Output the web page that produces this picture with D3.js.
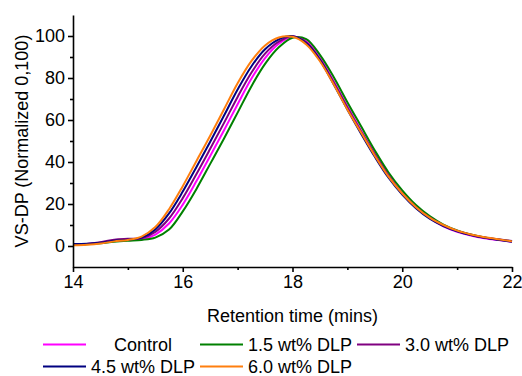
<!DOCTYPE html>
<html>
<head>
<meta charset="utf-8">
<script src="https://cdn.jsdelivr.net/npm/d3@7"></script>
<style>
  html, body { margin: 0; padding: 0; background: #fff; }
  svg { display: block; font-family: Arial, "Liberation Sans", sans-serif; }
</style>
</head>
<body>
<svg id="chart" width="522" height="376"></svg>
<script>
// ---- Data ----
const times = [14, 14.25, 14.5, 14.75, 15, 15.25, 15.5, 15.75, 16, 16.25, 16.5, 16.75, 17, 17.25, 17.5, 17.75,
               18, 18.25, 18.5, 18.75, 19, 19.25, 19.5, 19.75, 20, 20.25, 20.5, 20.75, 21, 21.25, 21.5, 21.75, 22];

const seriesNames = ["Control", "1.5 wt% DLP", "3.0 wt% DLP", "4.5 wt% DLP", "6.0 wt% DLP"];
const seriesColors = ["#ff00ff", "#008000", "#800080", "#000080", "#ff7f0e"];

const control = [0.6, 0.9, 1.5, 2.4, 2.8, 3.1, 5.4, 10.7, 19.7, 30.9, 42.9, 55, 67.5, 79.6, 89.5, 96.3,
                 99.6, 97.5, 89.5, 78.5, 66.5, 55, 44, 33.5, 25, 18.3, 13.2, 9.4, 6.8, 5.0, 3.7, 2.8, 2.0];
const dlp15 = [0.5, 0.8, 1.3, 2.0, 2.5, 2.9, 4.0, 7.8, 16.5, 27.2, 39.1, 51.1, 63.5, 76, 86.7, 94.6,
               99.2, 98.5, 91, 80.5, 68.5, 57, 45.5, 35, 26.5, 19.5, 14.2, 10.2, 7.4, 5.5, 4.1, 3.1, 2.3];
const dlp30 = [0.8, 1.0, 1.8, 3.0, 3.4, 3.7, 6.7, 13.1, 22.8, 34.3, 46.3, 58.5, 71, 82.5, 91.6, 97.3,
               99.9, 97, 89, 78, 66, 54.5, 43.5, 33.5, 25, 18.5, 13.5, 9.8, 7.2, 5.4, 4.1, 3.2, 2.4];
const dlp45 = [1.0, 1.1, 1.5, 2.5, 3.0, 4.0, 7.9, 15.5, 25.9, 37.6, 49.6, 62, 74.5, 85.5, 93.7, 98.4,
               99.9, 96.5, 88.5, 77, 65, 53.5, 42.5, 32.5, 24.5, 18, 13, 9.5, 7, 5.2, 3.9, 3.0, 2.0];
const dlp60 = [0.3, 0.6, 1.2, 2.2, 2.9, 4.5, 9, 17.5, 28.5, 40.5, 52.5, 65, 77.5, 88, 95.5, 99.3,
               99.6, 96, 88, 77, 65, 54, 43, 33, 25, 18.5, 13.5, 10, 7.3, 5.5, 4.2, 3.2, 2.2];
const seriesValues = [control, dlp15, dlp30, dlp45, dlp60];

const xMajorTicks = [14, 16, 18, 20, 22];
const xMinorTicks = [15, 17, 19, 21];
const yMajorTicks = [0, 20, 40, 60, 80, 100];
const yMinorTicks = [10, 30, 50, 70, 90];

const xTitle = "Retention time (mins)";
const yTitle = "VS-DP (Normalized 0,100)";

// ---- Chart ----
const svg = d3.select("#chart");
const x = d3.scaleLinear().domain([14, 22]).range([73, 512]);
const y = d3.scaleLinear().domain([-10, 110]).range([267, 15]);

const line = d3.line()
  .x((d, i) => x(times[i]))
  .y(d => y(d))
  .curve(d3.curveCatmullRom.alpha(0.5));

svg.append("g").selectAll("path")
  .data(seriesValues)
  .join("path")
  .attr("d", d => line(d))
  .attr("fill", "none")
  .attr("stroke", (d, i) => seriesColors[i])
  .attr("stroke-width", 2)
  .attr("stroke-linejoin", "round");

function styleAxis(g) {
  g.selectAll(".domain").attr("stroke", "#000").attr("stroke-width", 1.6);
  g.selectAll(".tick line").attr("stroke", "#000").attr("stroke-width", 1.6);
  g.selectAll(".tick text").attr("font-size", 18).attr("fill", "#000")
    .attr("font-family", "Arial, 'Liberation Sans', sans-serif");
}

// x axis
const xAxisG = svg.append("g").attr("transform", `translate(0,${y(-10)})`)
  .call(d3.axisBottom(x).tickValues(xMajorTicks).tickSize(5).tickSizeOuter(0).tickPadding(3).tickFormat(d3.format("d")));
styleAxis(xAxisG);
const xMinorG = svg.append("g").attr("transform", `translate(0,${y(-10)})`)
  .call(d3.axisBottom(x).tickValues(xMinorTicks).tickSize(3).tickSizeOuter(0).tickFormat(""));
styleAxis(xMinorG);
xMinorG.select(".domain").remove();

// y axis
const yAxisG = svg.append("g").attr("transform", `translate(${x(14)},0)`)
  .call(d3.axisLeft(y).tickValues(yMajorTicks).tickSize(5).tickSizeOuter(0).tickPadding(3).tickFormat(d3.format("d")));
styleAxis(yAxisG);
const yMinorG = svg.append("g").attr("transform", `translate(${x(14)},0)`)
  .call(d3.axisLeft(y).tickValues(yMinorTicks).tickSize(3).tickSizeOuter(0).tickFormat(""));
styleAxis(yMinorG);
yMinorG.select(".domain").remove();

// titles
svg.append("text")
  .attr("x", (x(14) + x(22)) / 2)
  .attr("y", 322)
  .attr("text-anchor", "middle")
  .attr("font-size", 18)
  .text(xTitle);

svg.append("text")
  .attr("transform", `translate(28,${(y(-10) + y(110)) / 2}) rotate(-90)`)
  .attr("text-anchor", "middle")
  .attr("font-size", 18)
  .text(yTitle);

// legend
const legendCols = [{lx: 43, tx: 143}, {lx: 200, tx: 300}, {lx: 357, tx: 457}];
const legendRows = [344.5, 366.5];
const legend = svg.append("g");
seriesNames.forEach((name, i) => {
  const col = legendCols[i % 3];
  const rowY = legendRows[Math.floor(i / 3)];
  legend.append("line")
    .attr("x1", col.lx).attr("x2", col.lx + 43)
    .attr("y1", rowY).attr("y2", rowY)
    .attr("stroke", seriesColors[i]).attr("stroke-width", 2);
  legend.append("text")
    .attr("x", col.tx).attr("y", rowY + 6.5)
    .attr("text-anchor", "middle")
    .attr("font-size", 18)
    .text(name);
});
</script>
</body>
</html>
